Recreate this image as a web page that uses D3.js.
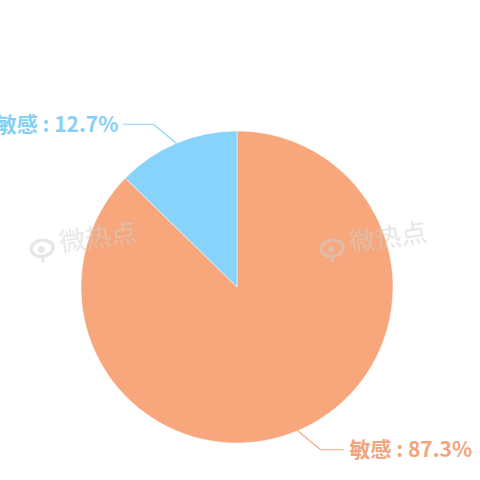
<!DOCTYPE html>
<html>
<head>
<meta charset="utf-8">
<script src="https://cdn.jsdelivr.net/npm/d3@7"></script>
<style>
  body { margin: 0; background: #fff; }
  svg { display: block; }
</style>
</head>
<body>
<div id="chart"></div>
<script>
// data
const labels = ["敏感", "非敏感"];
const values = [87.3, 12.7];
const colors = ["#F7A77B", "#88D3FC"];
const textColors = ["#F3A47B", "#86CFF6"];

const width = 480, height = 480;
const cx = 237, cy = 287, radius = 156;

const svg = d3.create("svg")
  .attr("width", width)
  .attr("height", height)
  .style("font-family", "'Noto Sans CJK SC', 'Noto Sans', sans-serif");

const pie = d3.pie().sort(null).value(d => d);
const arcs = pie(values);
const arc = d3.arc().innerRadius(0).outerRadius(radius);

const g = svg.append("g").attr("transform", `translate(${cx},${cy})`);

g.selectAll("path")
  .data(arcs)
  .join("path")
  .attr("d", arc)
  .attr("fill", (d, i) => colors[i])
  .attr("stroke", "#fff")
  .attr("stroke-width", 0.5);

// label lines + text
arcs.forEach((d, i) => {
  const mid = (d.startAngle + d.endAngle) / 2;
  const sx = Math.sin(mid), sy = -Math.cos(mid);
  const p0 = [sx * radius, sy * radius];
  const p1 = [p0[0] + Math.sign(sx) * 23, p0[1] + Math.sign(sy) * 19];
  const right = sx > 0;
  const p2 = [p1[0] + (right ? 23 : -30), p1[1]];
  g.append("polyline")
    .attr("points", [p0, p1, p2].map(p => p.join(",")).join(" "))
    .attr("fill", "none")
    .attr("stroke", colors[i])
    .attr("stroke-width", 1.2);
  g.append("text")
    .attr("x", p2[0] + (right ? 6 : -5))
    .attr("y", p2[1])
    .attr("dy", "0.36em")
    .attr("text-anchor", right ? "start" : "end")
    .attr("font-size", 21)
    .attr("font-weight", "bold")
    .attr("fill", textColors[i])
    .text(labels[i] + " : " + values[i] + "%");
});

// faint watermarks, drawn over the pie
const marks = [[30, 248], [320, 248]];
const wm = svg.append("g").attr("opacity", 0.5);
marks.forEach(([x, y]) => {
  const m = wm.append("g").attr("transform", `translate(${x},${y}) rotate(-8)`);
  m.append("ellipse").attr("cx", 12).attr("cy", 2).attr("rx", 11).attr("ry", 8)
    .attr("fill", "none").attr("stroke", "#d0d0d0").attr("stroke-width", 3.5);
  m.append("circle").attr("cx", 11).attr("cy", 3).attr("r", 3.5).attr("fill", "#d0d0d0");
  m.append("line").attr("x1", 11).attr("y1", 10).attr("x2", 11).attr("y2", 16)
    .attr("stroke", "#d0d0d0").attr("stroke-width", 3);
  m.append("text").attr("x", 30).attr("y", 8)
    .attr("font-size", 26).attr("fill", "#d0d0d0").text("微热点");
});

document.getElementById("chart").appendChild(svg.node());
</script>
</body>
</html>
